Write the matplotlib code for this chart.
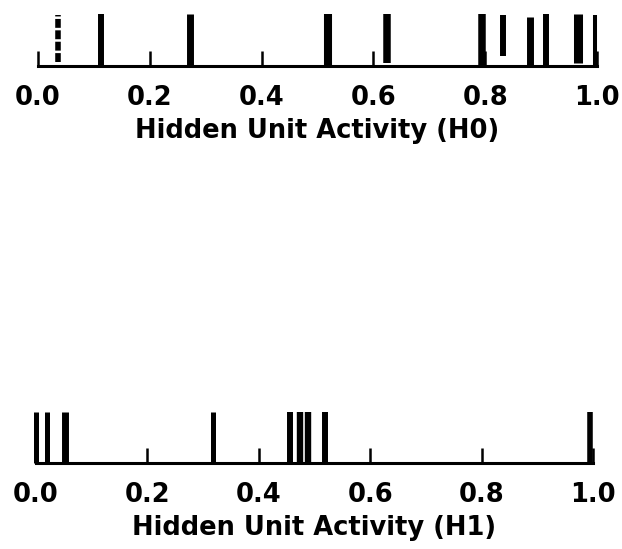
import numpy as np
import matplotlib.pyplot as plt

# bar positions (activity value) and vertical extent (fraction of full height)
h0_pos = [0.036, 0.112, 0.272, 0.518, 0.624, 0.795, 0.831, 0.881, 0.908, 0.966, 0.996]
h0_lo = [0.08, 0.0, 0.0, 0.0, 0.06, 0.0, 0.2, 0.0, 0.0, 0.06, 0.0]
h0_hi = [0.98, 1.0, 1.0, 1.0, 1.0, 1.0, 0.98, 0.94, 1.0, 1.0, 0.98]

h1_pos = [0.0, 0.02, 0.052, 0.318, 0.456, 0.474, 0.489, 0.519, 0.995]
h1_lo = [0.0] * 9
h1_hi = [1.0] * 9

ticks = [0.0, 0.2, 0.4, 0.6, 0.8, 1.0]
tick_labels = ["0.0", "0.2", "0.4", "0.6", "0.8", "1.0"]

# line widths (pt) per bar
h0_lw = [4.0, 4.3, 5.0, 5.8, 5.4, 5.4, 4.3, 5.0, 4.3, 6.5, 2.9]
h1_lw = [3.6, 3.6, 5.0, 3.6, 4.3, 4.6, 4.6, 4.3, 4.0]

plt.rcParams["font.family"] = ["DejaVu Sans"]
plt.rcParams["font.weight"] = "bold"
plt.rcParams["axes.labelweight"] = "bold"

fig = plt.figure(figsize=(6.22, 5.49), dpi=100)
W, H = 622, 549


def rug(rect, pos, lo, hi, lw, xlabel, dashed=None):
    ax = fig.add_axes(rect)
    for i, (x, a, b, w) in enumerate(zip(pos, lo, hi, lw)):
        ls = (0, (1.6, 0.45)) if dashed is not None and i in dashed else "-"
        ax.vlines(x, a, b, colors="black", linewidth=w, linestyles=ls,
                  capstyle="butt", clip_on=False)
    ax.set_xlim(0, 1)
    ax.set_ylim(0, 1)
    for s in ["left", "right", "top"]:
        ax.spines[s].set_visible(False)
    ax.spines["bottom"].set_linewidth(2.2)
    ax.spines["bottom"].set_capstyle("projecting")
    ax.set_yticks([])
    ax.set_xticks(ticks)
    ax.set_xticklabels(tick_labels)
    ax.tick_params(axis="x", direction="in", length=10.8, width=1.8,
                   pad=14, labelsize=18.5)
    ax.set_xlabel(xlabel, fontsize=18.5, labelpad=5)
    ax.patch.set_visible(False)
    return ax


rug([38 / W, 1 - 66 / H, 559 / W, 52 / H], h0_pos, h0_lo, h0_hi, h0_lw,
    "Hidden Unit Activity (H0)", dashed=[0])
rug([36 / W, 1 - 463 / H, 557 / W, 51 / H], h1_pos, h1_lo, h1_hi, h1_lw,
    "Hidden Unit Activity (H1)")

fig.savefig("out.png", dpi=100)
